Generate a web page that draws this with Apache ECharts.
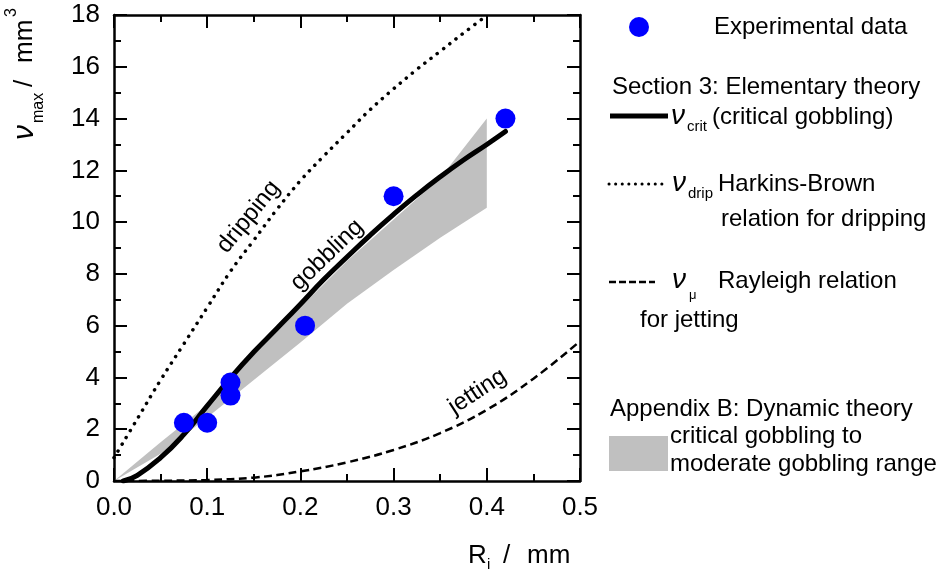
<!DOCTYPE html>
<html><head><meta charset="utf-8">
<script src="https://cdn.jsdelivr.net/npm/echarts@6/dist/echarts.min.js"></script>
<style>html,body{margin:0;padding:0;background:#fff}#c{width:943px;height:583px}</style>
</head><body><div id="c"></div>
<script>
// ---------- data ----------
const expR = [0.075, 0.1, 0.125, 0.125, 0.205, 0.3, 0.42];
const expV = [2.25, 2.25, 3.8, 3.3, 6.0, 11.0, 14.0];

const critR = [0.01, 0.025, 0.05, 0.075, 0.1, 0.125, 0.15, 0.175, 0.2, 0.225, 0.25, 0.275, 0.3, 0.325, 0.35, 0.375, 0.4, 0.42];
const critV = [0, 0.22, 0.9, 1.8, 2.9, 3.98, 4.98, 5.9, 6.83, 7.78, 8.65, 9.5, 10.3, 11.05, 11.75, 12.4, 13.0, 13.5];

const dripR = [0, 0.025, 0.05, 0.075, 0.1, 0.125, 0.15, 0.175, 0.2, 0.225, 0.25, 0.275, 0.3, 0.325, 0.35, 0.375, 0.397];
const dripV = [0.9, 2.4, 3.9, 5.3, 6.7, 8.1, 9.3, 10.5, 11.6, 12.55, 13.45, 14.35, 15.15, 15.9, 16.6, 17.3, 17.9];

const jetR = [0, 0.05, 0.1, 0.15, 0.2, 0.25, 0.3, 0.35, 0.4, 0.45, 0.5];
const jetV = [0, 0.01, 0.04, 0.13, 0.37, 0.72, 1.2, 1.85, 2.75, 3.95, 5.4];

const bandR = [0, 0.05, 0.1, 0.15, 0.2, 0.25, 0.3, 0.35, 0.4];
const bandUpper = [0, 1.5, 2.95, 4.85, 6.7, 8.5, 10.1, 11.7, 14.0];
const bandLower = [0, 1.05, 2.45, 3.9, 5.35, 6.85, 8.15, 9.4, 10.55];

const xTickLabels = ['0.0', '0.1', '0.2', '0.3', '0.4', '0.5'];
const yTickLabels = ['0', '2', '4', '6', '8', '10', '12', '14', '16', '18'];

// ---------- chart ----------
const FONT = '"Liberation Sans", Arial, sans-serif';
const pairs = (a, b) => a.map((v, i) => [v, b[i]]);
const chart = echarts.init(document.getElementById('c'));

const axisCommon = () => ({
  axisLine: { show: true, onZero: false, lineStyle: { color: '#000', width: 2.5 } },
  axisTick: { show: true, inside: true, length: 13, lineStyle: { color: '#000', width: 2 } },
  minorTick: { show: true, splitNumber: 2, length: 7, lineStyle: { color: '#000', width: 2 } },
  splitLine: { show: false }, minorSplitLine: { show: false }
});
const labelStyle = { color: '#000', fontSize: 26, fontFamily: FONT, margin: 14 };

const option = {
  animation: false,
  backgroundColor: '#fff',
  grid: { left: 114, right: 363, top: 15, bottom: 102 },
  xAxis: [
    Object.assign({ type: 'value', min: 0, max: 0.5, interval: 0.1, position: 'bottom',
      axisLabel: Object.assign({ show: true, formatter: v => xTickLabels[Math.round(v * 10)] }, labelStyle) }, axisCommon()),
    Object.assign({ type: 'value', min: 0, max: 0.5, interval: 0.1, position: 'top', axisLabel: { show: false } }, axisCommon())
  ],
  yAxis: [
    Object.assign({ type: 'value', min: 0, max: 18, interval: 2, position: 'left',
      axisLabel: Object.assign({ show: true, formatter: v => yTickLabels[Math.round(v / 2)] }, labelStyle) }, axisCommon()),
    Object.assign({ type: 'value', min: 0, max: 18, interval: 2, position: 'right', axisLabel: { show: false } }, axisCommon())
  ],
  series: [
    {
      type: 'custom', coordinateSystem: 'cartesian2d', silent: true, z: 1,
      data: [[0, 0]],
      renderItem: (params, api) => {
        const pts = [];
        for (let i = 0; i < bandR.length; i++) pts.push(api.coord([bandR[i], bandUpper[i]]));
        for (let i = bandR.length - 1; i >= 0; i--) pts.push(api.coord([bandR[i], bandLower[i]]));
        return { type: 'polygon', shape: { points: pts }, style: { fill: '#c0c0c0' } };
      }
    },
    {
      type: 'line', data: pairs(dripR, dripV), showSymbol: false, smooth: 0.4, z: 2,
      lineStyle: { color: '#000', width: 3.5, type: [0.1, 7.8], cap: 'round' }
    },
    {
      type: 'line', data: pairs(jetR, jetV), showSymbol: false, smooth: 0.4, z: 2,
      lineStyle: { color: '#000', width: 2.5, type: [8, 4.5] }
    },
    {
      type: 'line', data: pairs(critR, critV), showSymbol: false, smooth: 0.5, z: 3,
      lineStyle: { color: '#000', width: 5, cap: 'round', join: 'round' }
    },
    {
      type: 'scatter', data: pairs(expR, expV), symbol: 'circle', symbolSize: 20, z: 4,
      itemStyle: { color: '#0000ff', opacity: 1 }
    }
  ]
};
chart.setOption(option);

// ---------- annotations & legend ----------
const toPx = (x, y) => chart.convertToPixel({ xAxisIndex: 0, yAxisIndex: 0 }, [x, y]);
const txt = (text, x, y, size, extra) => Object.assign({
  type: 'text', x: x, y: y, silent: true,
  style: Object.assign({ text: text, fill: '#000', font: size + 'px ' + FONT,
    textAlign: 'left', textVerticalAlign: 'middle', align: 'left', verticalAlign: 'middle' }, (extra && extra.style) || {})
}, extra ? { rotation: extra.rotation || 0 } : {});
const ctxt = (text, pos, deg, size) => ({
  type: 'text', x: pos[0], y: pos[1], rotation: deg * Math.PI / 180, silent: true,
  style: { text: text, fill: '#000', font: size + 'px ' + FONT, textAlign: 'center', textVerticalAlign: 'middle', align: 'center', verticalAlign: 'middle' }
});
const italic = (size) => 'italic ' + size + 'px ' + FONT;

const g = [];
// curve labels
g.push(ctxt('dripping', toPx(0.1444, 10.2), 51, 24));
g.push(ctxt('gobbling', toPx(0.2287, 8.73), 44, 24));
g.push(ctxt('jetting', toPx(0.39, 3.45), 33, 24));

// y axis title (rotated group)
g.push({
  type: 'group', x: 34, y: 140, rotation: Math.PI / 2, silent: true,
  children: [
    { type: 'text', x: 0, y: -9, style: { text: 'ν', fill: '#000', font: italic(30), textAlign: 'left', textVerticalAlign: 'middle', align: 'left', verticalAlign: 'middle' } },
    { type: 'text', x: 17, y: 5, style: { text: 'max', fill: '#000', font: '16px ' + FONT, textAlign: 'left', textVerticalAlign: 'middle', align: 'left', verticalAlign: 'middle' } },
    { type: 'text', x: 53, y: -9, style: { text: '/', fill: '#000', font: '26px ' + FONT, textAlign: 'left', textVerticalAlign: 'middle', align: 'left', verticalAlign: 'middle' } },
    { type: 'text', x: 77, y: -9, style: { text: 'mm', fill: '#000', font: '26px ' + FONT, textAlign: 'left', textVerticalAlign: 'middle', align: 'left', verticalAlign: 'middle' } },
    { type: 'text', x: 123, y: -22, style: { text: '3', fill: '#000', font: '16px ' + FONT, textAlign: 'left', textVerticalAlign: 'middle', align: 'left', verticalAlign: 'middle' } }
  ]
});

// x axis title
g.push(txt('R', 468, 556, 26));
g.push(txt('i', 487, 565, 15));
g.push(txt('/', 503, 556, 26));
g.push(txt('mm', 527, 556, 26));

// legend
g.push({ type: 'circle', shape: { cx: 639, cy: 27, r: 10 }, style: { fill: '#0000ff' }, silent: true });
g.push(txt('Experimental data', 714, 27, 24));
g.push(txt('Section 3: Elementary theory', 612, 87, 24));

g.push({ type: 'line', shape: { x1: 610, y1: 116, x2: 668, y2: 116 }, style: { stroke: '#000', lineWidth: 5 }, silent: true });
g.push(txt('ν', 671, 116, 0, { style: { font: italic(28) } }));
g.push(txt('crit', 687, 127, 15));
g.push(txt('(critical gobbling)', 712, 117, 24));

g.push({ type: 'line', shape: { x1: 609, y1: 184, x2: 664, y2: 184 }, style: { stroke: '#000', lineWidth: 3, lineDash: [0.1, 6.5], lineCap: 'round' }, silent: true });
g.push(txt('ν', 672, 183, 0, { style: { font: italic(28) } }));
g.push(txt('drip', 688, 194, 15));
g.push(txt('Harkins-Brown', 718, 184, 24));
g.push(txt('relation for dripping', 721, 219, 24));

g.push({ type: 'line', shape: { x1: 609, y1: 282, x2: 655, y2: 282 }, style: { stroke: '#000', lineWidth: 2.5, lineDash: [7, 3] }, silent: true });
g.push(txt('ν', 672, 280, 0, { style: { font: italic(28) } }));
g.push(txt('μ', 689, 295, 13));
g.push(txt('Rayleigh relation', 718, 281, 24));
g.push(txt('for jetting', 640, 320, 24));

g.push(txt('Appendix B: Dynamic theory', 610, 409, 24));
g.push({ type: 'rect', shape: { x: 609, y: 436, width: 59, height: 35 }, style: { fill: '#c0c0c0' }, silent: true });
g.push(txt('critical gobbling to', 670, 436, 24));
g.push(txt('moderate gobbling range', 670, 464, 24));

chart.setOption({ graphic: { elements: g } });
</script>
</body></html>
